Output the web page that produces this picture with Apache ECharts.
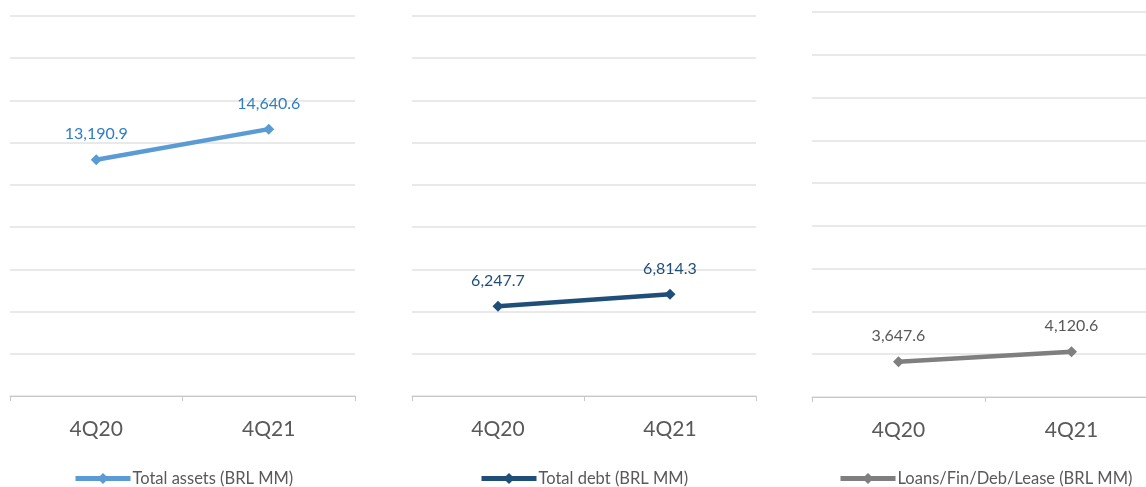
<!DOCTYPE html>
<html>
<head>
<meta charset="utf-8">
<script src="https://cdn.jsdelivr.net/npm/echarts@6/dist/echarts.min.js"></script>
<style>
html,body{margin:0;padding:0;background:#fff;}
#c{width:1146px;height:487px;}
</style>
</head>
<body>
<div id="c"></div>
<script>
const categories = ['4Q20', '4Q21'];
const seriesNames = ['Total assets (BRL MM)', 'Total debt (BRL MM)', 'Loans/Fin/Deb/Lease (BRL MM)'];
const totalAssets = [13190.9, 14640.6];
const totalDebt = [6247.7, 6814.3];
const loansFinDebLease = [3647.6, 4120.6];
const yMin = 2000, yMax = 20000, yInterval = 2000;

const values = [totalAssets, totalDebt, loansFinDebLease];
const lineColors = ['#5B9BD5', '#1F4E79', '#7F7F7F'];
const labelColors = ['#2E7EC4', '#1F4E79', '#595959'];
const grids = [
  {left: 10, top: 16, width: 345, height: 380, outerBoundsMode: 'none'},
  {left: 412, top: 16, width: 344, height: 380, outerBoundsMode: 'none'},
  {left: 812, top: 12, width: 346, height: 385, outerBoundsMode: 'none'}
];
const legendLeft = [73, 479, 838];
const font = "Lato, 'Open Sans', sans-serif";

const fmt = v => v.toLocaleString('en-US', {minimumFractionDigits: 1, maximumFractionDigits: 1});

const option = {
  animation: false,
  backgroundColor: '#fff',
  grid: grids,
  xAxis: grids.map((g, i) => ({
    type: 'category', gridIndex: i, data: categories, boundaryGap: true,
    axisLine: {lineStyle: {color: '#C8C8C8', width: 1}},
    axisTick: {show: true, length: 5, lineStyle: {color: '#C8C8C8'}},
    axisLabel: {color: '#595959', fontSize: 21, fontFamily: font, margin: 23}
  })),
  yAxis: grids.map((g, i) => ({
    type: 'value', gridIndex: i, min: yMin, max: yMax, interval: yInterval,
    axisLabel: {show: false}, axisLine: {show: false}, axisTick: {show: false},
    splitLine: {lineStyle: {color: '#E2E2E2', width: 1.5}}
  })),
  legend: seriesNames.map((n, i) => ({
    data: [n], left: legendLeft[i], top: 470, padding: 0, itemWidth: 55, itemHeight: 14, itemGap: 4,
    lineStyle: {width: 5},
    textStyle: {color: '#595959', fontSize: 16.5, fontFamily: font, padding: [0, 0, 0, -3]}
  })),
  series: seriesNames.map((n, i) => ({
    name: n, type: 'line', xAxisIndex: i, yAxisIndex: i, data: values[i],
    symbol: 'diamond', symbolSize: 11,
    itemStyle: {color: lineColors[i]},
    lineStyle: {color: lineColors[i], width: 4.5},
    label: {show: true, position: 'top', distance: 12, color: labelColors[i], fontSize: 16,
      fontFamily: font, formatter: p => fmt(p.value)}
  }))
};
echarts.init(document.getElementById('c')).setOption(option);
</script>
</body>
</html>
